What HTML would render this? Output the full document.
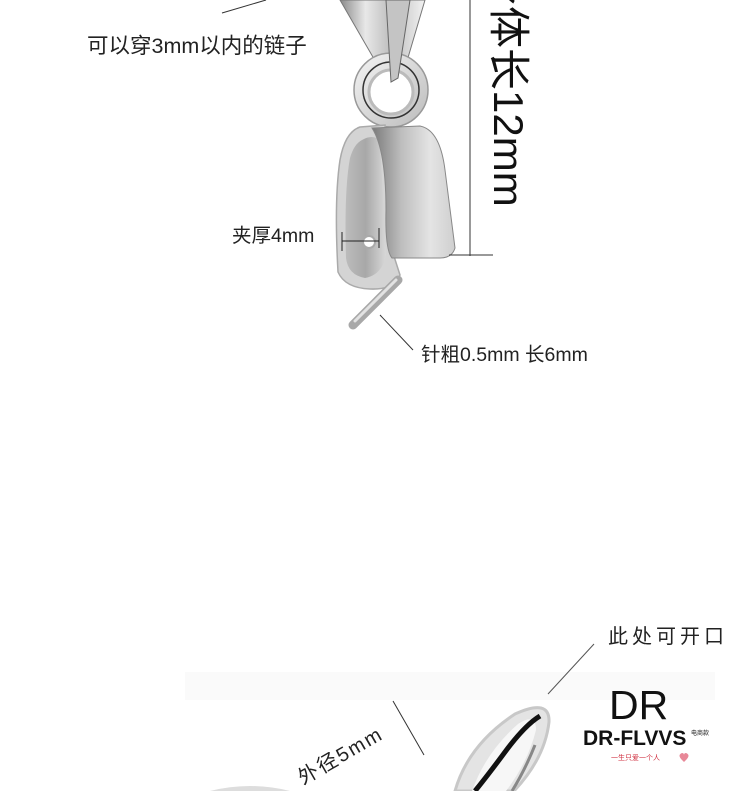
<!DOCTYPE html>
<html><head><meta charset="utf-8"><style>
html,body{margin:0;padding:0;background:#fff;width:750px;height:791px;overflow:hidden;}
svg{display:block}
text{font-family:"Liberation Sans","Noto Sans CJK SC",sans-serif;}
</style></head><body>
<svg width="750" height="791" viewBox="0 0 750 791" xmlns="http://www.w3.org/2000/svg" overflow="hidden">
<defs>
<linearGradient id="m1" x1="0" x2="1" y1="0" y2="0">
<stop offset="0" stop-color="#8a8a8a"/><stop offset="0.3" stop-color="#e8e8e8"/><stop offset="0.6" stop-color="#bdbdbd"/><stop offset="1" stop-color="#f2f2f2"/></linearGradient>
<linearGradient id="m2" x1="0" x2="1" y1="0" y2="0">
<stop offset="0" stop-color="#bcbcbc"/><stop offset="0.5" stop-color="#a8a8a8"/><stop offset="1" stop-color="#d8d8d8"/></linearGradient>
<linearGradient id="m4" x1="0" x2="1" y1="0" y2="0">
<stop offset="0" stop-color="#7a7a7a"/><stop offset="0.35" stop-color="#bdbdbd"/><stop offset="0.7" stop-color="#e4e4e4"/><stop offset="1" stop-color="#cfcfcf"/></linearGradient>
<linearGradient id="m3" x1="0" x2="1" y1="0" y2="1">
<stop offset="0" stop-color="#f5f5f5"/><stop offset="1" stop-color="#bbb"/></linearGradient>
</defs>

<line x1="222" y1="13" x2="266" y2="0" stroke="#333" stroke-width="1"/>
<text x="87" y="53" font-size="21.5" fill="#222">可以穿3mm以内的链子</text>

<path d="M340 0 L425 0 L402 78 L392 82 L385 78 Z" fill="url(#m1)" stroke="#777" stroke-width="1"/>
<circle cx="391" cy="90" r="37" fill="url(#m3)" stroke="#999" stroke-width="1.5"/>
<circle cx="391" cy="90" r="28" fill="none" stroke="#333" stroke-width="1.5"/>
<circle cx="391" cy="92" r="22" fill="#fff" stroke="#bbb" stroke-width="3"/>
<path d="M386 0 L410 0 L398 78 L391 82 Z" fill="#c4c4c4" stroke="#666" stroke-width="1"/>
<path d="M360 127 L385 125 L392 250 L400 275 Q395 290 370 289 Q345 288 338 272 Q334 200 340 160 Q345 132 360 127 Z" fill="#d4d4d4" stroke="#aaa" stroke-width="1.5"/>
<path d="M362 140 Q372 134 380 140 L386 255 Q382 275 365 278 Q348 275 346 258 Q344 190 350 158 Q354 144 362 140 Z" fill="url(#m2)"/>
<path d="M372 128 L420 126 Q440 130 445 170 L455 248 Q452 258 440 258 L392 258 Q385 250 386 210 Q386 150 372 128 Z" fill="url(#m4)" stroke="#888" stroke-width="1"/>
<circle cx="369" cy="242" r="6" fill="#fff" stroke="#aaa" stroke-width="2"/>
<line x1="353" y1="325" x2="398" y2="280" stroke="#a8a8a8" stroke-width="9" stroke-linecap="round"/>
<line x1="355" y1="321" x2="396" y2="280" stroke="#e2e2e2" stroke-width="3" stroke-linecap="round"/>
<line x1="342" y1="241" x2="379" y2="241" stroke="#222" stroke-width="1"/>
<line x1="342" y1="232" x2="342" y2="251" stroke="#222" stroke-width="1"/>
<line x1="379" y1="228" x2="379" y2="248" stroke="#222" stroke-width="1"/>
<text x="232" y="242" font-size="19.5" fill="#222">夹厚4mm</text>

<line x1="470" y1="0" x2="470" y2="256" stroke="#333" stroke-width="1"/>
<line x1="449" y1="255" x2="493" y2="255" stroke="#333" stroke-width="1"/>
<text transform="translate(494,-36) rotate(90)" font-size="42" fill="#111">身体长12mm</text>

<line x1="380" y1="315" x2="413" y2="350" stroke="#333" stroke-width="1"/>
<text x="421" y="361" font-size="19.5" fill="#222">针粗0.5mm 长6mm</text>

<rect x="185" y="672" width="530" height="28" fill="#fafafa"/>
<line x1="548" y1="694" x2="594" y2="644" stroke="#555" stroke-width="1"/>
<text x="608" y="643" font-size="20" fill="#222" letter-spacing="4">此处可开口</text>

<line x1="393" y1="701" x2="424" y2="755" stroke="#333" stroke-width="1"/>
<text transform="translate(303,785) rotate(-30)" font-size="20" fill="#222" letter-spacing="2">外径5mm</text>

<path d="M455 791 Q468 745 515 714 Q550 698 549 722 Q545 758 514 791 Z" fill="#e4e4e4" stroke="#c8c8c8" stroke-width="3"/>
<path d="M472 791 Q486 752 518 724 Q536 712 536 730 Q528 762 506 791 Z" fill="#f7f7f7"/>
<path d="M540 716 Q525 725 505 752 Q488 775 475 791" stroke="#111" stroke-width="5" fill="none" stroke-linecap="butt"/>
<path d="M535 745 Q525 770 512 791" stroke="#888" stroke-width="3" fill="none"/>
<path d="M210 791 Q250 781 290 791 Z" fill="#ddd"/>

<text x="609" y="719" font-size="41" fill="#111">DR</text>
<text x="583" y="745" font-size="21" font-weight="bold" fill="#111">DR-FLVVS</text>
<text x="691" y="735" font-size="6" fill="#111">电商款</text>
<text x="611" y="760" font-size="7" fill="#d03040">一生只爱一个人</text>
<path d="M682 760 q-5 -5 0 -7 q2 0 2 2 q0 -2 2 -2 q5 2 0 7 l-2 2 z" fill="#e88898"/>
</svg>
</body></html>
